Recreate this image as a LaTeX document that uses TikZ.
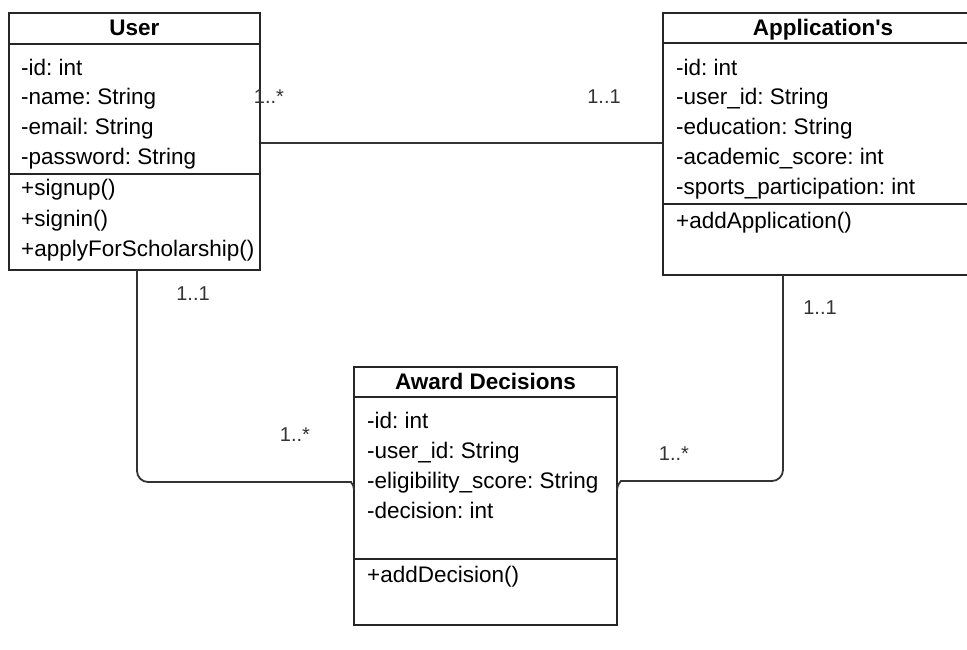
\documentclass[tikz,border=0pt]{standalone}
\usepackage{fontspec}
\setmainfont{Liberation Sans}
\frenchspacing
\tikzset{
  umlbox/.style={draw=black!85, line width=1.8pt, inner sep=0pt, fill=white},
  sepline/.style={draw=black!85, line width=1.8pt},
  conn/.style={draw=black!80, line width=1.8pt},
  member/.style={anchor=base west, inner sep=0pt, font=\fontsize{22.5}{26}\selectfont},
  classtitle/.style={anchor=base, inner sep=0pt, font=\fontsize{22.5}{26}\selectfont\bfseries},
  mult/.style={anchor=base, inner sep=0pt, font=\fontsize{20}{24}\selectfont, text=black!80},
}
\begin{document}
\begin{tikzpicture}[x=1pt,y=-1pt]
\useasboundingbox (0,0) rectangle (967,650);

% class boxes
\node[umlbox, minimum width=251pt, minimum height=257pt] (user) at (134.5,141.5) {};
\node[umlbox, minimum width=320pt, minimum height=262pt] (app) at (823,144) {};
\node[umlbox, minimum width=263pt, minimum height=258pt] (award) at (485.5,496) {};

% compartment separators
\draw[sepline] (user.west |- 0,44) -- (user.east |- 0,44);
\draw[sepline] (user.west |- 0,174) -- (user.east |- 0,174);
\draw[sepline] (app.west |- 0,43) -- (app.east |- 0,43);
\draw[sepline] (app.west |- 0,204) -- (app.east |- 0,204);
\draw[sepline] (award.west |- 0,397) -- (award.east |- 0,397);
\draw[sepline] (award.west |- 0,559) -- (award.east |- 0,559);

% User
\node[classtitle] (userT) at (134.5,36) {User};
\node[member] (u1) at (21,76) {-id: int};
\node[member] (u2) at (21,105) {-name: String};
\node[member] (u3) at (21,135) {-email: String};
\node[member] (u4) at (21,165) {-password: String};
\node[member] (u5) at (21,196) {+signup()};
\node[member] (u6) at (21,226) {+signin()};
\node[member] (u7) at (21,256) {+applyForScholarship()};

% Application's
\node[classtitle] (appT) at (823,36) {Application\textquotesingle s};
\node[member] (a1) at (676,76) {-id: int};
\node[member] (a2) at (676,105) {-user\_id: String};
\node[member] (a3) at (676,135) {-education: String};
\node[member] (a4) at (676,165) {-academic\_score: int};
\node[member] (a5) at (676,194) {-sports\_participation: int};
\node[member] (a6) at (676,228) {+addApplication()};

% Award Decisions
\node[classtitle] (awT) at (485.5,389) {Award Decisions};
\node[member] (d1) at (367,428) {-id: int};
\node[member] (d2) at (367,458) {-user\_id: String};
\node[member] (d3) at (367,488) {-eligibility\_score: String};
\node[member] (d4) at (367,518) {-decision: int};
\node[member] (d5) at (367,582) {+addDecision()};

% connector end points on the box edges
\coordinate (awL) at (354,490);
\coordinate (awR) at (617,490);
\coordinate (appFoot) at (783,275);
\coordinate (userFoot) at (137,270);

% associations
\draw[conn] (user.east |- 0,143) -- (app.west |- 0,143);
\draw[conn, rounded corners=11pt] (userFoot) -- (137,482) -- (340,482)
  .. controls (350,482) and (354,484) .. (awL);
\draw[conn, rounded corners=11pt] (awR) .. controls (617,485) and (621,481) .. (632,481)
  -- (783,481) -- (appFoot);

% multiplicities
\node[mult] (m1) at (269,104) {1..*};
\node[mult] (m2) at (604,104) {1..1};
\node[mult] (m3) at (193,300) {1..1};
\node[mult] (m4) at (295,441) {1..*};
\node[mult] (m5) at (674,460) {1..*};
\node[mult] (m6) at (820,314) {1..1};
\end{tikzpicture}
\end{document}
